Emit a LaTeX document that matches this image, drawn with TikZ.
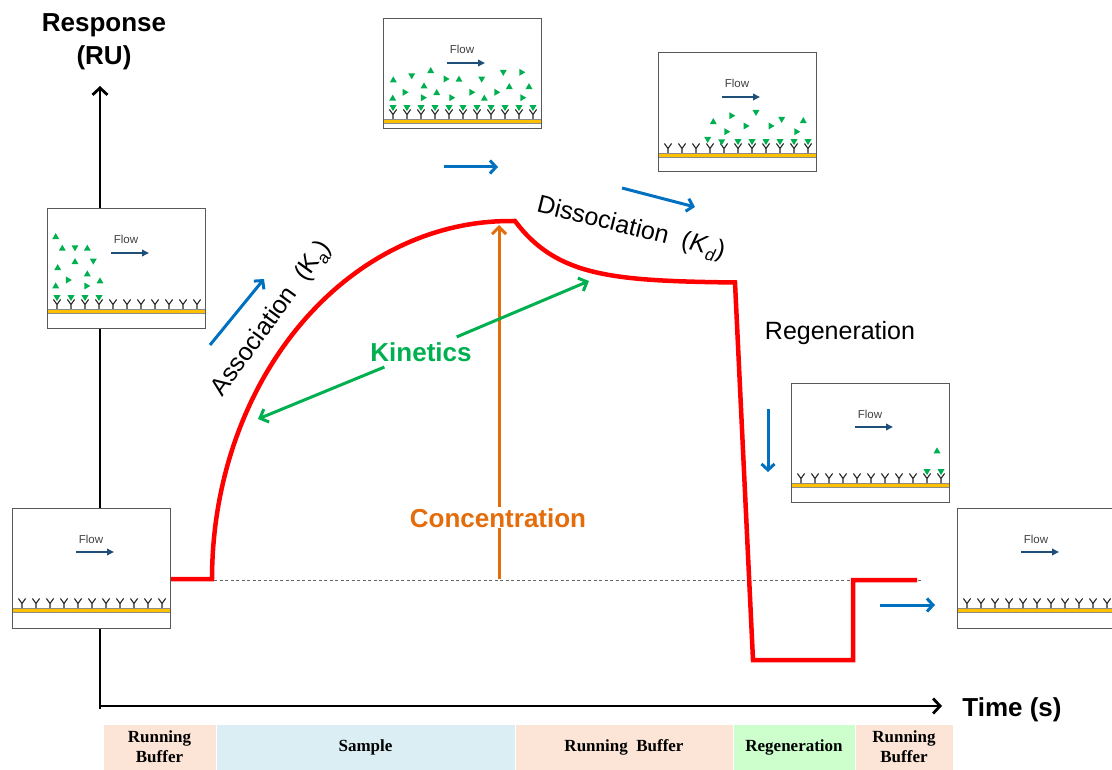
\documentclass[tikz,border=0pt]{standalone}
\usepackage{fontspec}
\setmainfont{Liberation Sans}
\newfontfamily\barfont{Liberation Serif}
\usetikzlibrary{arrows.meta}

\definecolor{curvered}{HTML}{FF0000}
\definecolor{flowblue}{HTML}{0070C0}
\definecolor{kingreen}{HTML}{00B050}
\definecolor{concorange}{HTML}{E46C0A}
\definecolor{darkflow}{HTML}{1F4E79}
\definecolor{chipgold}{HTML}{FFC000}
\definecolor{peach}{HTML}{FCE4D6}
\definecolor{paleblue}{HTML}{DAEEF3}
\definecolor{palegreen}{HTML}{CCFFCC}
\definecolor{framegray}{HTML}{595959}

\newcommand\fsz[1]{\fontsize{#1}{#1}\selectfont}

% analyte molecules (small triangles), placed relative to the current scope
\newcommand\tup[2]{\fill[kingreen] (#1,#2) ++(0,-3.6) -- ++(3.5,6) -- ++(-7,0) -- cycle;}
\newcommand\tdn[2]{\fill[kingreen] (#1,#2) ++(0,3.6) -- ++(3.5,-6) -- ++(-7,0) -- cycle;}
\newcommand\trt[2]{\fill[kingreen] (#1,#2) ++(3.6,0) -- ++(-6,3.5) -- ++(0,-7) -- cycle;}
% molecules bound on top of the listed antibodies
\newcommand\bound[1]{\foreach \k in {#1} {\tdn{10+14*\k}{88.5}}}

% sensor chip panel: name, left, top, height, molecules
\newcommand\sensor[5]{%
  \begin{scope}[shift={(#2,#3)}]
    \fill[white] (0,0) rectangle (158,#4);
    \node[flowlabel] (#1) at (79,35) {Flow};
    \draw[flowarrow] (64,44) -- (102,44);
    \fill[chipgold] (0,100) rectangle (158,104.5);
    \draw[framegray!70, line width=0.8pt] (0,100) -- (158,100) (0,104.5) -- (158,104.5);
    \foreach \i in {0,...,10} {%
      \draw[antibody] (10+14*\i,100) -- (10+14*\i,95.5) -- ++(-3.6,-5)
                      (10+14*\i,95.5) -- ++(3.6,-5);}
    #5
    \draw[framegray, line width=1pt] (0,0) rectangle (158,#4);
  \end{scope}}

\begin{document}
\begin{tikzpicture}[x=1pt, y=-1pt,
  axisline/.style={black, line width=2.8pt, -{Straight Barb[length=7pt,width=15pt]}},
  curvestyle/.style={curvered, line width=4.5pt},
  bluearrow/.style={flowblue, line width=3pt, -{Straight Barb[length=6pt,width=13pt]}},
  kinarrow/.style={kingreen, line width=3pt, -{Straight Barb[length=7pt,width=14pt]}},
  concarrow/.style={concorange, line width=3pt, -{Straight Barb[length=7pt,width=14pt]}},
  flowarrow/.style={darkflow, line width=2.3pt, -{Triangle[length=7pt,width=6.5pt]}},
  flowlabel/.style={font=\fsz{11.5}, text=black!75, inner sep=0pt, anchor=base},
  antibody/.style={black!85, line width=1.1pt},
  cellbox/.style={draw=white, line width=1pt, inner sep=0pt, align=center,
    minimum height=46pt, font=\barfont\bfseries\fontsize{17}{20}\selectfont},
  biglabel/.style={font=\fsz{26}\bfseries, inner sep=0pt, anchor=base},
  steplabel/.style={font=\fsz{25}, inner sep=0pt}]

\useasboundingbox (0,0) rectangle (1112,770);
\clip (0,0) rectangle (1112,770);

% buffer / sample timeline
\node[cellbox, fill=peach, minimum width=113pt] (rb1) at (159.5,747) {Running\\Buffer};
\node[cellbox, fill=paleblue, minimum width=299pt] (smp) at (365.5,747) {Sample};
\node[cellbox, fill=peach, minimum width=218pt] (rb2) at (624,747) {Running\ \ Buffer};
\node[cellbox, fill=palegreen, minimum width=122pt] (rgn) at (794,747) {Regeneration};
\node[cellbox, fill=peach, minimum width=98pt] (rb3) at (904,747) {Running\\Buffer};

% baseline level
\coordinate (blstart) at (170,580.5);
\coordinate (blend) at (923,580.5);
\draw[black!60, line width=0.8pt, dash pattern=on 3pt off 2.5pt] (blstart) -- (blend);

% axes
\coordinate (ybase) at (100,709);
\coordinate (ytip) at (100,86);
\coordinate (xbase) at (98.6,706);
\coordinate (xtip) at (942,706);
\draw[axisline] (ybase) -- (ytip);
\draw[axisline] (xbase) -- (xtip);
\node[biglabel] (resp) at (104,32) {Response};
\node[biglabel] (ru) at (104,65) {(RU)};
\node[biglabel] (time) at (1012,716) {Time (s)};

% sensorgram
\draw[curvestyle] (170,579) -- (212,579)
  -- plot[domain=180:90, samples=70] ({510+298*cos(\x)}, {579-358*sin(\x)})
  -- (515,221)
  -- plot[domain=515:735, samples=60] (\x, {283-62*exp(-(\x-515)/46)})
  -- (753,660) -- (853,660) -- (853,580) -- (917,580);

% concentration
\coordinate (concbase) at (499,579);
\coordinate (conctip) at (499,225);
\draw[concarrow] (concbase) -- (conctip);
\node[biglabel, text=concorange, fill=white, inner sep=1pt] (conc) at (498,527) {Concentration};

% kinetics
\node[font=\fsz{26}\bfseries, text=kingreen, inner sep=3pt] (kin) at (421,352) {Kinetics};
\coordinate (kinL) at (258,419);
\coordinate (kinR) at (589,281);
\draw[kinarrow, shorten <=6pt] (kin) -- (kinL);
\draw[kinarrow, shorten <=6pt] (kin) -- (kinR);

% phase labels
\node[steplabel, rotate=54] (assoc) at (272,319) {Association\ \ (K\raisebox{-0.22em}{\fsz{17}a})};
\node[steplabel, rotate=-14] (dissoc) at (631,229) {Dissociation\ \ (\textit{K}\raisebox{-0.22em}{\fsz{17}\textit{d}})};
\node[steplabel, anchor=base] (regen) at (840,340) {Regeneration};

% direction arrows
\coordinate (a1s) at (210,345); \coordinate (a1e) at (264,279);
\coordinate (a2s) at (444,167); \coordinate (a2e) at (498,167);
\coordinate (a3s) at (622,188); \coordinate (a3e) at (695,207);
\coordinate (a4s) at (768,409); \coordinate (a4e) at (768,472);
\coordinate (a5s) at (880,605); \coordinate (a5e) at (935,605);
\draw[bluearrow] (a1s) -- (a1e);
\draw[bluearrow] (a2s) -- (a2e);
\draw[bluearrow] (a3s) -- (a3e);
\draw[bluearrow] (a4s) -- (a4e);
\draw[bluearrow] (a5s) -- (a5e);

% sensor chips
\sensor{flowA}{12}{508}{120}{}
\sensor{flowB}{47}{209}{120}{%
  \tup{8.7}{27.7} \tup{15.3}{39.3} \tdn{28}{38.7} \tup{40.3}{39.3}
  \tdn{46.3}{52} \tup{28}{52.7} \tup{10.7}{58.7} \tup{40.3}{65}
  \trt{21.3}{71} \tup{53}{72} \tup{8.7}{77} \trt{39.7}{77}
  \bound{0,1,2,3}}
\sensor{flowC}{383}{19}{110}{%
  \tup{10.3}{61} \tdn{28.7}{56.7} \tup{47.7}{51.7} \tup{41}{67}
  \trt{63}{60} \tup{76}{60.3} \tdn{98.7}{60} \tdn{120.3}{53.3}
  \trt{138.7}{53.3} \tup{126.3}{67.7} \tup{146}{67.7}
  \tup{9.7}{79.3} \trt{22}{73.3} \trt{40.3}{78.7} \tup{53.7}{73.7}
  \trt{68.7}{78.7} \trt{88.7}{73.3} \tup{101.3}{79.3} \trt{113.7}{73.3}
  \trt{139.7}{78.7}
  \bound{0,...,10}}
\sensor{flowD}{658}{53}{119}{%
  \tup{55.3}{68.7} \trt{73.7}{62.7} \tdn{98}{59.3} \trt{88}{73}
  \trt{68.7}{78.7} \tdn{49.7}{86.3} \tdn{63.7}{88.7} \trt{113}{73}
  \tdn{123.7}{66.3} \tup{145.3}{67.7} \trt{138.7}{78.7}
  \bound{5,...,10}}
\sensor{flowE}{791}{383}{119}{%
  \tup{146}{68} \bound{9,10}}
\sensor{flowF}{957}{508}{120}{}

\end{tikzpicture}
\end{document}
